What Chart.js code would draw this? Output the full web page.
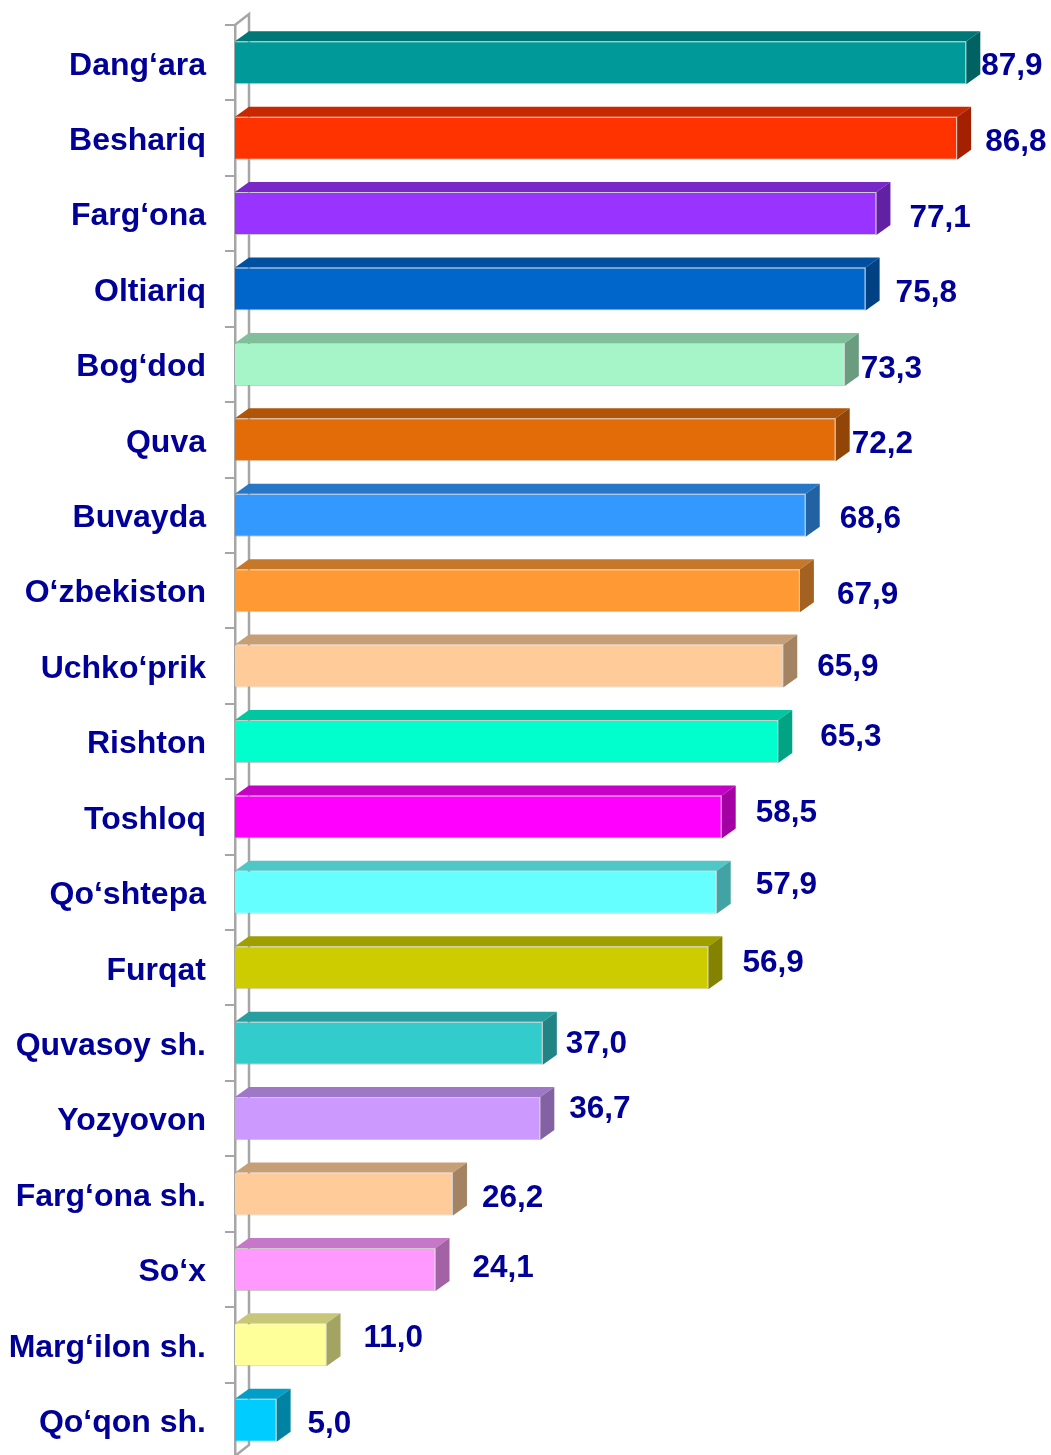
<!DOCTYPE html>
<html>
<head>
<meta charset="utf-8">
<script src="https://cdn.jsdelivr.net/npm/chart.js@4.4.1/dist/chart.umd.min.js"></script>
<style>
    html, body { margin: 0; padding: 0; background: #fff; overflow: hidden; }
    #wrap { position: relative; width: 1051px; height: 1458px; }
</style>
</head>
<body>
<div id="wrap"><canvas id="myChart"></canvas></div>
<script>
var districts = ['Dang‘ara', 'Beshariq', 'Farg‘ona', 'Oltiariq', 'Bog‘dod', 'Quva', 'Buvayda',
    'O‘zbekiston', 'Uchko‘prik', 'Rishton', 'Toshloq', 'Qo‘shtepa', 'Furqat', 'Quvasoy sh.',
    'Yozyovon', 'Farg‘ona sh.', 'So‘x', 'Marg‘ilon sh.', 'Qo‘qon sh.'];
var values = [87.9, 86.8, 77.1, 75.8, 73.3, 72.2, 68.6, 67.9, 65.9, 65.3, 58.5, 57.9, 56.9,
    37.0, 36.7, 26.2, 24.1, 11.0, 5.0];
var barColors = ['#009999', '#ff3300', '#9933ff', '#0066cc', '#a6f5c8', '#e36c09', '#3399ff',
    '#ff9933', '#ffcc99', '#00ffcc', '#ff00ff', '#66ffff', '#cccc00', '#33cccc', '#cc99ff',
    '#ffcc99', '#ff99ff', '#ffff99', '#00ccff'];
// value labels were placed by hand: [dx, dy] from the right end of each bar
var labelNudge = [[1, 1], [14, 1], [19, 1.5], [16, 1], [2, 2], [2, 1], [20, 1], [23, 1.5],
    [20, -2], [28, -7], [20, -6.5], [25, -10.5], [20, -7.5], [9, -2], [15, -12], [15, 1],
    [23, -4], [23, -9.5], [17, 1]];

var FONT = "'Liberation Sans', Arial, sans-serif";
var INK = '#000099';
var WALL = '#a6a6a6';
var DX = 14, DY = 10;   // depth of the 3d faces
var TEXT_DROP = 3;      // text sits a little below the bar centre

function shade(hex, f) {
    var n = parseInt(hex.slice(1), 16);
    var r = Math.round(((n >> 16) & 255) * f);
    var g = Math.round(((n >> 8) & 255) * f);
    var b = Math.round((n & 255) * f);
    return 'rgb(' + r + ',' + g + ',' + b + ')';
}

var bar3d = {
    id: 'bar3d',
    beforeDatasetsDraw: function (chart) {
        // back edge of the axis wall
        var a = chart.chartArea, ctx = chart.ctx;
        var bottom = Math.min(a.bottom, chart.height - 2);
        ctx.save();
        ctx.strokeStyle = WALL;
        ctx.lineWidth = 2.5;
        ctx.beginPath();
        ctx.moveTo(a.left, a.top);
        ctx.lineTo(a.left + DX, a.top - DY - 1);
        ctx.lineTo(a.left + DX, bottom - DY - 1);
        ctx.lineTo(a.left, bottom);
        ctx.stroke();
        ctx.restore();
    },
    afterDatasetsDraw: function (chart) {
        var ctx = chart.ctx;
        var meta = chart.getDatasetMeta(0);
        ctx.save();
        meta.data.forEach(function (bar, i) {
            var left = bar.base, right = bar.x;
            var top = bar.y - bar.height / 2, bottom = bar.y + bar.height / 2;

            ctx.fillStyle = shade(barColors[i], 0.78);
            ctx.beginPath();
            ctx.moveTo(left, top);
            ctx.lineTo(left + DX, top - DY);
            ctx.lineTo(right + DX, top - DY);
            ctx.lineTo(right, top);
            ctx.closePath();
            ctx.fill();

            ctx.fillStyle = shade(barColors[i], 0.64);
            ctx.beginPath();
            ctx.moveTo(right, top);
            ctx.lineTo(right + DX, top - DY);
            ctx.lineTo(right + DX, bottom - DY);
            ctx.lineTo(right, bottom);
            ctx.closePath();
            ctx.fill();

            ctx.fillStyle = INK;
            ctx.font = 'bold 31.5px ' + FONT;
            ctx.textAlign = 'left';
            ctx.textBaseline = 'middle';
            var txt = values[i].toFixed(1).replace('.', ',');
            ctx.fillText(txt, right + DX + labelNudge[i][0], bar.y + labelNudge[i][1] + TEXT_DROP);
        });
        ctx.restore();
    }
};

var ctx = document.getElementById('myChart');
var myChart = new Chart(ctx, {
    type: 'bar',
    data: {
        labels: districts,
        datasets: [{
            data: values,
            backgroundColor: barColors,
            borderColor: 'rgba(170,170,170,0.6)',
            borderWidth: 1,
            barPercentage: 0.57,
            categoryPercentage: 1
        }]
    },
    options: {
        indexAxis: 'y',
        responsive: true,
        maintainAspectRatio: false,
        animation: false,
        layout: { padding: { top: 25, right: 9, bottom: 0, left: 0 } },
        plugins: {
            legend: { display: false },
            tooltip: { enabled: false }
        },
        scales: {
            x: { display: false, min: 0, max: 97 },
            y: {
                grid: {
                    offset: true,
                    drawOnChartArea: false,
                    drawTicks: true,
                    tickLength: 10,
                    color: WALL,
                    lineWidth: 2
                },
                border: { display: true, color: WALL, width: 2.5 },
                ticks: {
                    color: INK,
                    autoSkip: false,
                    padding: 19,
                    labelOffset: TEXT_DROP,
                    font: { family: FONT, size: 32, weight: 'bold' }
                },
                afterFit: function (scale) {
                    scale.width = 235;
                    scale.paddingTop = 0;
                    scale.paddingBottom = 0;
                }
            }
        }
    },
    plugins: [bar3d]
});
</script>
</body>
</html>
